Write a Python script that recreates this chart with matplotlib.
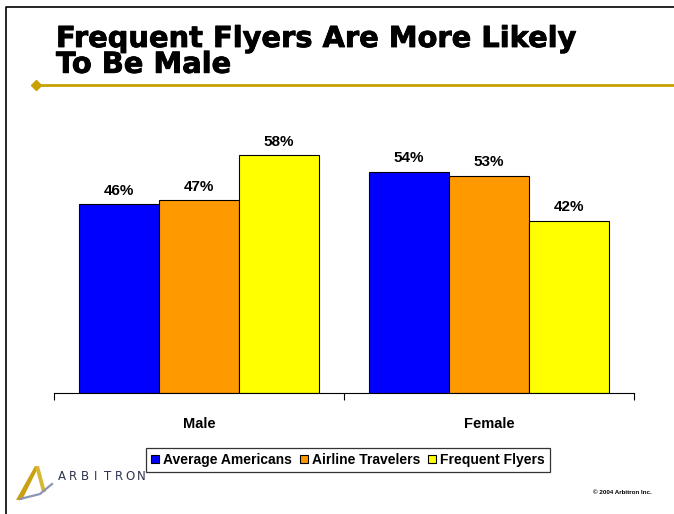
import matplotlib
matplotlib.use("Agg")
import matplotlib.pyplot as plt
from matplotlib.patches import Rectangle, Polygon
from matplotlib.lines import Line2D
import matplotlib.patheffects as pe

categories = ["Male", "Female"]
series_names = ["Average Americans", "Airline Travelers", "Frequent Flyers"]
values = {
    "Average Americans": [46, 54],
    "Airline Travelers": [47, 53],
    "Frequent Flyers": [58, 42],
}
colors = ["#0000FF", "#FF9900", "#FFFF00"]
title = "Frequent Flyers Are More Likely\nTo Be Male"

W, H = 674, 514
fig = plt.figure(figsize=(W / 100, H / 100), dpi=100)
fig.patch.set_facecolor("white")

def fx(px):
    return px / W

def fy(py):
    return 1 - py / H

# border (left and top)
fig.add_artist(Line2D([fx(5.5), fx(5.5), fx(674)], [fy(514), fy(7), fy(7)], transform=fig.transFigure,
                      color="black", linewidth=1.2))

# title
fig.text(fx(56), fy(25), title, ha="left", va="top", fontsize=20.8, fontweight="bold",
         family="DejaVu Sans", linespacing=0.9, color="black",
         path_effects=[pe.withStroke(linewidth=0.6, foreground="black")])
# gold rule
fig.add_artist(Line2D([fx(36), fx(674)], [fy(85), fy(85)], transform=fig.transFigure,
                      color="#C8A000", linewidth=2))
fig.add_artist(Line2D([fx(36)], [fy(85)], transform=fig.transFigure, marker="D",
                      markersize=5, color="#C8A000"))

# axes
base_y = 393
ymax = 70
px_per = 4.1
top_y = base_y - ymax * px_per
ax = fig.add_axes([fx(54), fy(base_y), fx(634 - 54), (base_y - top_y) / H])
ax.set_xlim(0, 2)
ax.set_ylim(0, ymax)
bw = 80 / 290
for i, name in enumerate(series_names):
    xs = [c + 0.5 + (i - 1) * bw for c in range(len(categories))]
    ax.bar(xs, values[name], width=bw, color=colors[i], edgecolor="black", linewidth=0.8)
    for x, v in zip(xs, values[name]):
        ax.text(x, v + 1.6, f"{v}%", ha="center", va="bottom", fontsize=11, fontweight="bold",
                family="Liberation Sans")
for s in ["top", "right", "left"]:
    ax.spines[s].set_visible(False)
ax.spines["bottom"].set_linewidth(0.8)
ax.set_yticks([])
ax.set_xticks([0, 1, 2])
ax.set_xticklabels([])
ax.tick_params(axis="x", direction="out", length=5, width=0.8)
ax.set_xticks([0.5, 1.5], minor=True)
ax.set_xticklabels(categories, minor=True, fontsize=10.5, fontweight="bold", family="Liberation Sans")
ax.tick_params(axis="x", which="minor", length=0, pad=17)

# legend
handles = [Rectangle((0, 0), 1, 1, facecolor=c, edgecolor="black", linewidth=0.8) for c in colors]
leg = fig.legend(handles, series_names, loc="center", bbox_to_anchor=(fx(348), fy(460)),
                 ncol=3, frameon=True, fancybox=False, edgecolor="black",
                 prop={"family": "Liberation Sans", "weight": "bold", "size": 10},
                 handlelength=0.55, handleheight=0.55, handletextpad=0.3, columnspacing=0.6,
                 borderpad=0.35, borderaxespad=0)
leg.get_frame().set_linewidth(0.9)

# logo
gold = "#C8A010"
fig.add_artist(Polygon([[fx(16), fy(500)], [fx(35), fy(466)], [fx(39), fy(466)], [fx(22), fy(500)]],
                       closed=True, transform=fig.transFigure, facecolor=gold, edgecolor="none"))
fig.add_artist(Polygon([[fx(35), fy(466)], [fx(39), fy(466)], [fx(46), fy(492)], [fx(42), fy(492)]],
                       closed=True, transform=fig.transFigure, facecolor="#D8B830", edgecolor="none"))
fig.add_artist(Line2D([fx(20), fx(40), fx(52)], [fy(499), fy(494), fy(484)], transform=fig.transFigure,
                      color="#8C96B4", linewidth=1.6))
for k, ch in enumerate("ARBITRON"):
    fig.text(fx(62 + k * 11.3), fy(477), ch, ha="center", va="center", fontsize=8.5, color="#2E3450",
             family="DejaVu Sans")
fig.text(fx(652), fy(492), "© 2004 Arbitron Inc.", ha="right", va="center", fontsize=4.5,
         fontweight="bold", family="Liberation Sans")

fig.savefig("out.png", dpi=100)
